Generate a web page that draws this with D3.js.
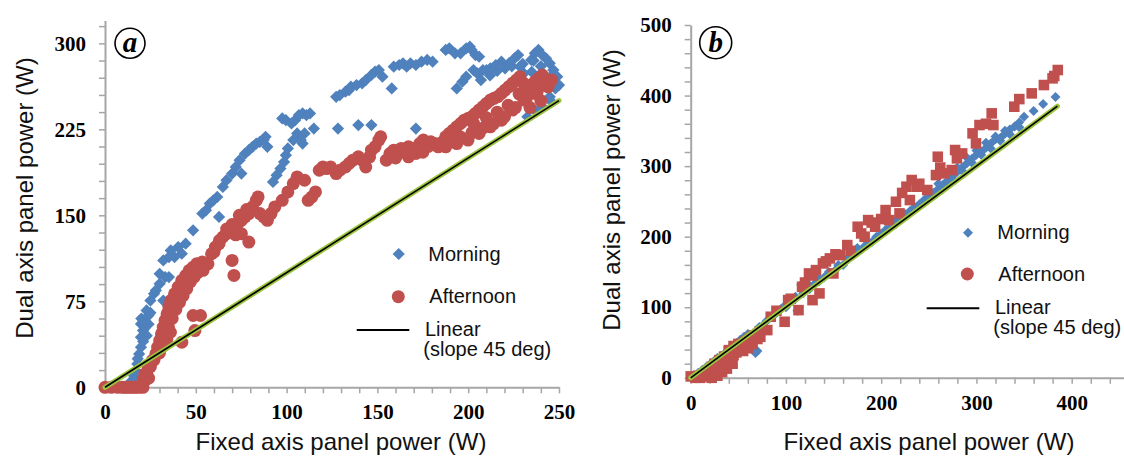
<!DOCTYPE html>
<html><head><meta charset="utf-8">
<script src="https://cdn.jsdelivr.net/npm/d3@7"></script>
<style>
html,body{margin:0;padding:0;background:#fff;}
svg{display:block;}
</style></head>
<body>
<svg id="c" width="1124" height="463"></svg>
<script>
// ---------- DATA ----------
const morningA = [
[14.7,5.8],[16,10],[16.8,14.6],[17.8,20.4],[18,25],[18.8,29.1],[19.8,35.0],[21,40],[19.8,43.7],[23,45],[20.9,49.5],[22,52],[19.8,55.3],[24,55],[21.9,58.3],[20,60],[23.9,62.6],[25,65],[22.9,67.0],
[25.0,75.7],[27.0,81.6],[28.0,84.5],[30.1,90.3],[32.1,75.7],[33.1,96.1],[35.2,96.1],[30.1,99.0],
[32.1,110.7],[35.2,113.6],[36.2,119.4],[38.3,113.6],[40.3,122.3],[42.3,116.5],[44.4,125.3],
[48.5,136.9],[53.6,151.5],[55.6,154.4],[57.7,160.2],[59.7,163.1],[61.8,166.0],[62.8,148.6],
[64.9,174.8],[66.9,180.6],[70.0,186.4],[72.0,192.2],[74.1,198.1],[75.1,186.4],
[77.1,203.9],[79.2,206.8],[81.2,209.7],[83.3,212.6],[85.3,214.1],[87.4,215.6],[88.4,218.5],[89.4,209.7],
[92.5,179.1],[94.5,185.0],[96.6,190.8],[98.6,196.6],[99.6,202.4],[100.7,208.3],
[97.6,234.5],[99.6,233.0],[102.7,230.1],[104.7,233.0],[106.8,237.4],[108.8,238.9],[110.9,237.4],[112.9,238.9],
[103.7,215.6],[105.8,221.4],[107.8,215.6],[108.8,212.6],[109.9,221.4],[115.0,225.7],
[128.3,225.7],[139.5,228.7],[146.7,228.7],
[127.3,253.4],[129.3,254.9],[132.4,257.8],[134.4,259.2],[135.4,262.2],[138.5,263.6],[141.6,265.1],[143.6,268.0],[146.7,272.4],[148.7,275.3],[150.8,276.7],[152.8,270.9],
[157.9,260.7],
[159.0,279.6],[162.0,281.1],[164.1,282.6],[166.1,279.6],[168.2,282.6],[171.2,281.1],[174.3,284.0],[177.4,285.5],[180.4,284.0],
[171.2,225.7],
[187.6,294.2],[189.6,295.7],[192.7,291.3],[195.8,291.3],[198.9,295.7],[200.9,297.1],[201.9,294.2],[204.0,289.8],[206.0,288.4],
[193.7,260.7],[196.8,266.5],[198.9,270.9],
[202.9,276.7],[205.0,273.8],[207.0,268.0],[208.1,276.7],[210.1,276.7],[212.2,278.2],[215.2,281.1],[218.3,284.0],[220.3,278.2],[222.4,282.6],[225.5,286.9],[227.5,289.8],
[212,272],[216,276],[224,280],[230,282],[235,275],[238,270],[242,268],[246,272],[240,280],[236,285],
[228.5,279.6],[230.6,273.8],[231.6,265.1],[232.6,259.2],[234.7,285.5],[236.7,291.3],[238.7,294.2],[240.8,289.8],[242.8,286.9],[244.9,282.6],[246.9,276.7],[249.0,270.9],[250.0,263.6],[248.0,260.7],[244.9,253.4],[240.8,250.5],
[232.6,235.9],[236.7,241.8],[240.8,244.7],[244.9,250.5]
];

const afternoonA = [
[0,0],[3.5,0],[7,0],[9.6,0],[11,0],[12.7,0],[14,0],[15.8,0],[17,0],[18.8,0],[20.9,0],
[20.9,5.8],[21.9,11.7],[23.9,17.5],[26.0,23.3],[28.0,29.1],[29.0,35.0],[30.1,40.8],[31.1,46.6],[32.1,52.4],[33.1,58.3],[34.2,64.1],[35.2,69.9],[36.2,75.7],[38.3,81.6],[40.3,87.4],[42.3,93.2],[44.4,97.5],[46.4,101.9],[48.5,104.8],[50.5,107.7],[53.6,109.2],[56.7,107.7],
[23,12],[25,18],[27,24],[29,30],[31,36],[33,44],[35,52],[37,60],[39,68],[41,74],[43,80],[45,86],[47,92],[49,96],[51,100],[52,104],[54,102],[30,30],[32,36],[34,42],[36,48],[24,8],[22,6],
[48.5,62.6],[52.6,62.6],[49.5,49.5],[42.3,39.3],
[58.7,116.5],[60.8,122.3],[62.8,125.3],[64.9,131.1],[66.9,134.0],[68.9,136.9],[71.0,139.8],[73.0,142.7],[75.1,145.6],[77.1,148.6],[79.2,151.5],[81.2,157.3],[83.3,163.1],[84.3,166.0],
[60,118],[63,128],[67,138],[70,142],[74,150],[78,155],[72,133],
[70.0,110.7],[71.0,97.6],[79.2,126.7],[75.1,134.0],
[85.3,151.5],[87.4,148.6],[89.4,145.6],[91.4,151.5],[93.5,157.3],
[97.6,163.1],[100.7,170.4],[103.7,177.7],[105.8,183.5],[109.9,180.6],[111.9,163.1],[115.9,170.4],[113.9,166],
[118.0,189.3],[120.0,192.2],[122.1,190.8],[124.2,192.2],[127.3,186.4],[129.3,189.3],[132.4,192.2],[134.4,195.2],[136.5,198.1],[139.5,201.0],[141.6,198.1],[143.6,192.2],[145.7,201.0],[146.7,206.8],[148.7,209.7],[150.8,215.6],[151.8,218.5],
[154.9,198.1],[156.9,203.9],[159.0,206.8],[163.1,208.3],[167.1,209.7],[167.1,201.0],[171.2,203.9],[173.3,212.6],[175.3,215.6],[179.4,214.1],[181.5,212.6],[183.5,209.7],[187.6,218.5],[189.6,221.4],[191.7,224.3],[193.7,227.2],[195.8,230.1],[197.8,233.0],[199.9,234.5],[201.9,235.9],[204.0,238.9],[206.0,241.8],[208.1,244.7],[210.1,247.6],[212.2,250.5],[214.2,252.0],[216.2,253.4],[218.3,256.3],[220.3,259.2],[222.4,262.2],[224.4,265.1],[226.5,268.0],[228.5,270.9],[230.6,265.1],[232.6,262.2],[234.7,263.6],[236.7,266.5],[238.7,269.4],[240.8,272.4],
[187.6,209.7],[193.7,212.6],[199.9,215.6],[206.0,221.4],[212.2,227.2],[218.3,233.0],[224.4,241.8],[230.6,250.5],[236.7,256.3],
[160,200],[165,205],[170,208],[175,205],[178,210],[185,213],[190,215],[196,218],[202,222],[208,226],[214,230],[220,236],[226,244],[232,252],[238,258],[242,264],
[203,230],[210,235],[216,240],[222,246],[228,256],[234,244],[240,250],[244,262],[246,268]
];

const morningB = [
[3,3],[8,7],[12,11],[16,15],[20,19],[24,23],[28,28],[32,31],[36,35],[40,40],[44,44],[48,49],[52,54],[56,58],[60,62],[63,56],[65,46],[67,40],[70,38],[68,35],[72,72],[76,75],[80,81],[85,86],[90,92],[95,98],[100,104],[105,108],[110,115],[112,95],[116,132],[120,124],[125,126],[130,133],[135,137],[140,142],[145,148],[150,150],[155,157],[160,160],[165,168],[170,176],[175,184],[180,183],[185,188],[190,192],[195,198],[200,204],[205,208],[210,214],[215,218],[220,226],[225,230],[230,236],[235,240],[240,246],[245,252],[250,258],[255,262],[260,268],[265,274],[270,280],[275,286],[280,292],[285,298],[290,304],[295,310],[300,316],[305,320],[310,326],[315,332],[320,338],[325,340],[330,346],[335,352],[340,356],[345,362],[350,370],[360,378],[370,388],[383,398],
[100,100],[110,112],[118,120],[125,130],[135,140],[145,150],[155,160],[165,170],[175,178],[185,190],[195,200],[205,210],[215,222],[225,232],[235,242],[245,250],[255,260],[265,272],[275,282],[285,293],[295,305],[305,316],[315,325],[325,336],[335,345],[345,355],
[290,312],[300,322],[310,333],[320,342],[330,350],[280,298],[270,286],[260,275],[250,266]
];

const afternoonB = [
[0,2],[5,0],[10,0],[15,2],[22,0],[28,3],[20,5],[25,8],[33,8],[18,10],[28,12],[38,13],[30,15],[24,16],[35,18],[44,20],[38,22],[25,20],[40,25],[30,25],[42,30],[35,30],[45,32],[48,36],[40,38],[55,38],[50,40],[60,42],[52,44],[45,45],[55,45],[58,48],[65,48],[50,48],[60,50],[62,52],[65,55],[68,58],[70,62],[72,65],[21.9,15.6],[40.2,39.2],[47.5,44],
[8,3],[12,5],[16,6],[20,10],[26,14],[32,18],[36,24],[42,28],[46,38],[52,42],[56,50],[62,56],[66,60],[70,55],[58,52],[48,42],[44,36],[34,22],[30,20],
[73.1,58.1],[80.4,67.6],[84,86.5],[98.6,79.4],[102.3,110.1],[113.2,95.9],[116.9,129],[124.2,147.9],[131.5,152.6],[135.2,119.6],[127.9,110.1],[138.8,162.1],[146.1,169.2],[157,173.9],[164.4,188.1],[149.8,147.9],[175.3,214.1],[179,204.6],[186.3,223.5],[182.6,199.9],[193.6,214.1],[204.6,237.7],[208.2,223.5],[215.5,249.5],[219.2,233],[226.5,270.8],[232,280.3],[237.4,270.8],[230.1,251.9],[248.4,266.1],[257.5,287.3],[259.4,313.3],[266.7,289.7],[274,294.4],[277.6,322.8],[279.5,311],[295.9,346.4],[299.5,332.2],[303.2,358.2],[316,374.8],[317.8,358.2],[339.7,384.2],[358,403.1],[370.8,414.9],[381.7,427.7],[385.4,436.2],[379.9,424.4],
[90,95],[105,112],[120,135],[128,145],[142,165],[152,175],[168,180],[190,220],[200,225],[222,262],[240,275],[262,298],[285,318],[310,360],[345,395]
];

const linearA = [[0,0],[250,250]];
const linearB = [[0,0],[385,385]];

const xTicksA = [0,50,100,150,200,250];
const yTicksA = [0,75,150,225,300];
const xTicksB = [0,100,200,300,400];
const yTicksB = [0,100,200,300,400,500];

const legendLabels = ["Morning","Afternoon","Linear","(slope 45 deg)"];
const xTitle = "Fixed axis panel power (W)";
const yTitle = "Dual axis panel power (W)";

// ---------- DRAW ----------
const svg = d3.select("#c");
const BLUE = "#4F81BD", RED = "#C0504D", GREEN = "#9CC43E", AXIS = "#A6A6A6";

function panel(cfg){
  const g = svg.append("g");
  const x = d3.scaleLinear().domain(cfg.xDom).range(cfg.xRange);
  const y = d3.scaleLinear().domain(cfg.yDom).range(cfg.yRange);

  const xMinor = d3.range(0, cfg.xDom[1] + 0.001, cfg.xStep);
  const yMinor = d3.range(0, cfg.yDom[1] + 0.001, cfg.yStep);

  const ax = d3.axisBottom(x).tickValues(xMinor).tickSize(6).tickSizeOuter(0).tickPadding(11)
    .tickFormat(d => cfg.xTicks.includes(Math.round(d)) ? Math.round(d) : "");
  const ay = d3.axisLeft(y).tickValues(yMinor).tickSize(6).tickSizeOuter(0).tickPadding(13)
    .tickFormat(d => cfg.yTicks.includes(Math.round(d)) ? Math.round(d) : "");

  const gx = g.append("g").attr("transform", `translate(0,${cfg.yRange[0]})`).call(ax);
  const gy = g.append("g").attr("transform", `translate(${cfg.xRange[0]},0)`).call(ay);
  [gx, gy].forEach(a => {
    a.select(".domain").attr("stroke", AXIS).attr("stroke-width", 2);
    a.selectAll(".tick line").attr("stroke", AXIS).attr("stroke-width", 1.5);
    a.selectAll(".tick text").attr("fill", "#000")
      .style("font-family", "'Liberation Serif','Times New Roman',serif")
      .style("font-weight", "bold").style("font-size", "21px");
  });

  // morning diamonds
  g.append("g").selectAll("path").data(cfg.morning).join("path")
    .attr("d", d3.symbol(d3.symbolSquare, cfg.diaArea)())
    .attr("transform", d => `translate(${x(d[0])},${y(d[1])}) rotate(45)`)
    .attr("fill", BLUE);

  // afternoon
  if (cfg.afterShape === "circle") {
    g.append("g").selectAll("circle").data(cfg.afternoon).join("circle")
      .attr("cx", d => x(d[0])).attr("cy", d => y(d[1])).attr("r", 6.5)
      .attr("fill", RED);
  } else {
    g.append("g").selectAll("path").data(cfg.afternoon).join("path")
      .attr("d", d3.symbol(d3.symbolSquare, 112)())
      .attr("transform", d => `translate(${x(d[0])},${y(d[1])})`)
      .attr("fill", RED);
  }

  // linear line
  const line = d3.line().x(d => x(d[0])).y(d => y(d[1]));
  g.append("path").datum(cfg.linear).attr("d", line)
    .attr("stroke", GREEN).attr("stroke-width", 5).attr("fill", "none").attr("stroke-linecap", "round");
  g.append("path").datum(cfg.linear).attr("d", line)
    .attr("stroke", "#000").attr("stroke-width", 1.6).attr("fill", "none");

  // axis titles
  g.append("text").attr("x", cfg.xTitlePos[0]).attr("y", cfg.xTitlePos[1])
    .attr("text-anchor", "middle").attr("fill", "#111")
    .style("font-family", "'Liberation Sans',Arial,sans-serif").style("font-size", "24px")
    .text(xTitle);
  g.append("text")
    .attr("transform", `translate(${cfg.yTitlePos[0]},${cfg.yTitlePos[1]}) rotate(-90)`)
    .attr("text-anchor", "middle").attr("fill", "#111")
    .style("font-family", "'Liberation Sans',Arial,sans-serif").style("font-size", "24px")
    .text(yTitle);

  // panel label
  g.append("circle").attr("cx", cfg.lab[0]).attr("cy", cfg.lab[1]).attr("r", cfg.lab[2])
    .attr("fill", "#fff").attr("stroke", "#000").attr("stroke-width", 1.6);
  g.append("text").attr("x", cfg.lab[0]).attr("y", cfg.lab[1] + 9).attr("text-anchor", "middle")
    .style("font-family", "'Liberation Serif','Times New Roman',serif")
    .style("font-style", "italic").style("font-weight", "bold").style("font-size", "29px")
    .text(cfg.labText);

  // legend
  const L = cfg.leg;
  const lf = t => t.style("font-family", "'Liberation Sans',Arial,sans-serif").style("font-size", "20px").attr("fill", "#111");
  g.append("path").attr("d", d3.symbol(d3.symbolSquare, cfg.diaArea)())
    .attr("transform", `translate(${L.dia[0]},${L.dia[1]}) rotate(45)`).attr("fill", BLUE);
  g.append("text").attr("x", L.t1[0]).attr("y", L.t1[1]).call(lf).text(legendLabels[0]);
  g.append("circle").attr("cx", L.cir[0]).attr("cy", L.cir[1]).attr("r", 6.5).attr("fill", RED);
  g.append("text").attr("x", L.t2[0]).attr("y", L.t2[1]).call(lf).text(legendLabels[1]);
  g.append("line").attr("x1", L.ln[0]).attr("x2", L.ln[1]).attr("y1", L.ln[2]).attr("y2", L.ln[2])
    .attr("stroke", "#000").attr("stroke-width", 2);
  g.append("text").attr("x", L.t3[0]).attr("y", L.t3[1]).call(lf).text(legendLabels[2]);
  g.append("text").attr("x", L.t4[0]).attr("y", L.t4[1]).call(lf).text(legendLabels[3]);
}

panel({
  xDom: [0, 250], xRange: [105, 559], yDom: [0, 320], yRange: [387.3, 20.4],
  xStep: 10, yStep: 15, xTicks: xTicksA, yTicks: yTicksA,
  morning: morningA, afternoon: afternoonA, linear: linearA, afterShape: "circle",
  diaArea: 75,
  xTitlePos: [341, 450], yTitlePos: [33, 198],
  lab: [130, 43.3, 15], labText: "a",
  leg: { dia: [398.7, 254], t1: [428.3, 260.7], cir: [398.3, 296.7], t2: [429.3, 302.7],
         ln: [356.7, 409.3, 330], t3: [425, 336], t4: [423.3, 356] }
});

panel({
  xDom: [0, 455], xRange: [690.7, 690.7 + 455 * 0.9525], yDom: [0, 500], yRange: [377.8, 25],
  xStep: 20, yStep: 20, xTicks: xTicksB, yTicks: yTicksB,
  morning: morningB, afternoon: afternoonB, linear: linearB, afterShape: "square",
  diaArea: 50,
  xTitlePos: [929, 450], yTitlePos: [620, 190],
  lab: [715.7, 42.7, 16], labText: "b",
  leg: { dia: [968, 232.7], t1: [997.3, 239.3], cir: [967.3, 274], t2: [998.3, 280.7],
         ln: [926.7, 979.3, 308.3], t3: [995, 314], t4: [993.3, 334] }
});
</script>
</body></html>
